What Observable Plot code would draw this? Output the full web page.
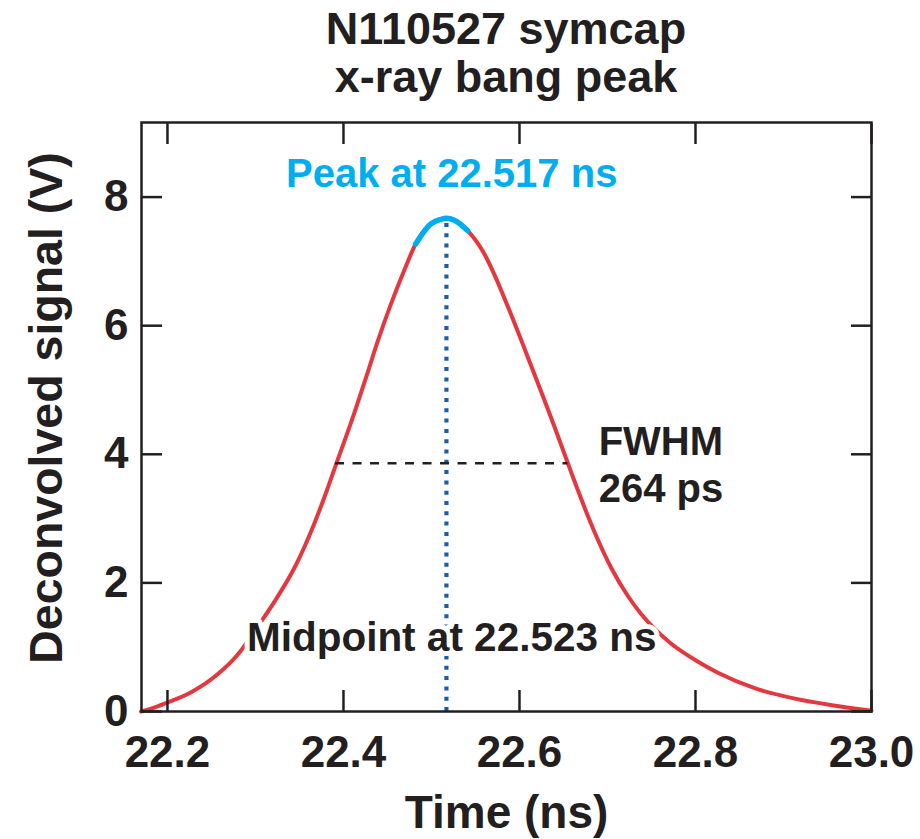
<!DOCTYPE html>
<html>
<head>
<meta charset="utf-8">
<script src="https://cdn.jsdelivr.net/npm/d3@7"></script>
<script src="https://cdn.jsdelivr.net/npm/@observablehq/plot@0.6"></script>
<style>
  html, body { margin: 0; padding: 0; background: #fff; }
  #title {
    box-sizing: border-box;
    width: 920px; height: 101px;
    padding: 5px 49px 0 141px;
    margin: 0;
    text-align: center;
    font-family: "Liberation Sans", Arial, Helvetica, sans-serif;
    font-weight: bold;
    font-size: 45px;
    line-height: 48px;
    color: #231f20;
  }
  svg { display: block; }
</style>
</head>
<body>
<div id="title">N110527 symcap<br>x-ray bang peak</div>
<div id="chart"></div>
<script>
// ---- data ----
const timeNs = [22.170, 22.185, 22.200, 22.227, 22.258, 22.279, 22.305, 22.324, 22.343, 22.351,
  22.362, 22.378, 22.391, 22.412, 22.427, 22.438, 22.454, 22.469, 22.482, 22.499, 22.510, 22.517,
  22.526, 22.541, 22.560, 22.571, 22.587, 22.605, 22.625, 22.640, 22.655, 22.662, 22.685, 22.704,
  22.723, 22.738, 22.754, 22.771, 22.801, 22.826, 22.868, 22.913, 22.959, 23.000];
const signalV = [0.00, 0.06, 0.14, 0.30, 0.59, 0.87, 1.37, 1.76, 2.20, 2.42,
  2.76, 3.32, 3.82, 4.63, 5.25, 5.72, 6.34, 6.86, 7.27, 7.58, 7.65, 7.67,
  7.64, 7.48, 7.12, 6.81, 6.29, 5.67, 4.96, 4.42, 3.86, 3.60, 2.80, 2.24,
  1.80, 1.52, 1.28, 1.07, 0.79, 0.60, 0.36, 0.20, 0.09, 0.01];

const peakTime = 22.517;      // ns
const peakValue = 7.67;       // V
const peakStart = 22.482;     // highlighted peak region
const peakEnd = 22.541;
const midpointTime = 22.523;  // ns
const halfMax = 3.86;         // V
const fwhmStart = 22.391;
const fwhmEnd = 22.655;       // 264 ps

const xTicks = [22.2, 22.4, 22.6, 22.8, 23.0];
const yTicks = [0, 2, 4, 6, 8];
const xDomain = [22.1705, 23.0];
const yDomain = [0, 9.16];

const peakLabel = "Peak at 22.517 ns";
const midLabel = "Midpoint at 22.523 ns";
const fwhmLabel = "FWHM\n264 ps";
const xLabel = "Time (ns)";
const yLabel = "Deconvolved signal (V)";

// ---- build ----
const data = timeNs.map((t, i) => ({t, v: signalV[i]}));
const peakData = data.filter(d => d.t >= peakStart && d.t <= peakEnd);

const ink = "#231f20";
const red = "#e4373e";
const cyan = "#00aeef";
const navy = "#1a5ca8";

const chart = Plot.plot({
  width: 920,
  height: 738,
  marginTop: 21,
  marginBottom: 128,
  marginLeft: 141,
  marginRight: 49,
  style: {fontFamily: "Liberation Sans, Arial, Helvetica, sans-serif", background: "#fff", color: ink},
  x: {domain: xDomain},
  y: {domain: yDomain},
  marks: [
    // data curve
    Plot.line(data, {x: "t", y: "v", stroke: red, strokeWidth: 4, curve: "monotone-x"}),
    Plot.line(peakData, {x: "t", y: "v", stroke: cyan, strokeWidth: 5.5, curve: "monotone-x"}),
    // peak marker (dotted)
    Plot.ruleX([peakTime], {y1: 0, y2: peakValue, stroke: navy, strokeWidth: 4.2, strokeDasharray: "4 6.3"}),
    // FWHM (dashed)
    Plot.ruleY([halfMax], {x1: fwhmStart, x2: fwhmEnd, stroke: ink, strokeWidth: 2.4, strokeDasharray: "9 8.5"}),
    // annotations
    Plot.text([peakLabel], {x: midpointTime, y: 8.35, text: d => d, fill: cyan, fontSize: 40, fontWeight: "bold", lineAnchor: "middle"}),
    Plot.text([midLabel], {x: midpointTime, y: 1.15, text: d => d, fill: ink, fontSize: 40.5, fontWeight: "bold", lineAnchor: "middle", stroke: "white", strokeWidth: 10}),
    Plot.text([fwhmLabel], {x: 22.69, y: halfMax, text: d => d, fill: ink, fontSize: 40, fontWeight: "bold", textAnchor: "start", lineAnchor: "middle", lineHeight: 1.175}),
    // frame and inward ticks on all sides
    Plot.frame({stroke: ink, strokeWidth: 2.5}),
    Plot.axisX(xTicks, {anchor: "bottom", tickSize: -21, tickFormat: () => "", stroke: ink, strokeWidth: 2.5, label: null}),
    Plot.axisX(xTicks, {anchor: "top", tickSize: -21, tickFormat: () => "", stroke: ink, strokeWidth: 2.5, label: null}),
    Plot.axisY(yTicks, {anchor: "left", tickSize: -21, tickFormat: () => "", stroke: ink, strokeWidth: 2.5, label: null}),
    Plot.axisY(yTicks, {anchor: "right", tickSize: -21, tickFormat: () => "", stroke: ink, strokeWidth: 2.5, label: null}),
    // tick labels
    Plot.axisX(xTicks, {anchor: "bottom", tickSize: 0, tickPadding: 24, tickFormat: d => d.toFixed(1), fontSize: 44, fontWeight: "bold", fill: ink, label: null}),
    Plot.axisY(yTicks, {anchor: "left", tickSize: 0, tickPadding: 13, tickFormat: d => String(d), fontSize: 44, fontWeight: "bold", fill: ink, label: null}),
    // axis titles
    Plot.text([xLabel], {frameAnchor: "bottom", dy: 102, text: d => d, fontSize: 46, fontWeight: "bold", fill: ink, textAnchor: "middle", lineAnchor: "middle"}),
    Plot.text([yLabel], {frameAnchor: "left", dx: -94, dy: -9, rotate: -90, text: d => d, fontSize: 46.5, fontWeight: "bold", fill: ink, textAnchor: "middle", lineAnchor: "middle"})
  ]
});
document.getElementById("chart").appendChild(chart);
</script>
</body>
</html>
